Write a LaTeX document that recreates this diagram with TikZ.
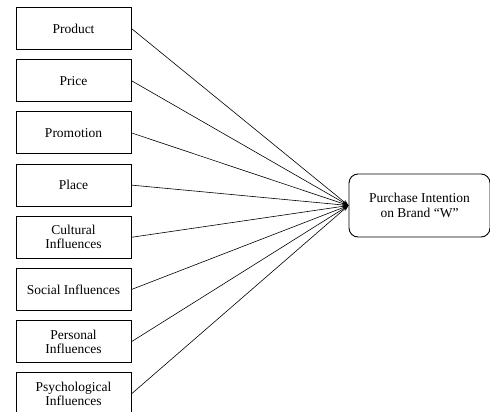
\documentclass[tikz,border=0pt]{standalone}
\usepackage{fontspec}
\setmainfont{Liberation Serif}
\usetikzlibrary{arrows.meta}
\begin{document}
\begin{tikzpicture}[x=1pt,y=-1pt,
  factor/.style={draw, line width=0.9pt, minimum width=115pt, minimum height=42pt, inner sep=0pt, align=center, font=\fontsize{13.5}{14}\selectfont},
  target/.style={draw, line width=0.9pt, rounded corners=9pt, minimum width=141pt, minimum height=63pt, inner sep=0pt, align=center, font=\fontsize{13.5}{14.5}\selectfont},
  link/.style={line width=0.6pt, -{Stealth[length=6pt,width=4pt]}}]
\useasboundingbox (0,0) rectangle (490,412);
\node[factor] (f1) at (73.5,28.5) {Product};
\node[factor] (f2) at (73.5,80.7) {Price};
\node[factor] (f3) at (73.5,132.9) {Promotion};
\node[factor] (f4) at (73.5,185.1) {Place};
\node[factor] (f5) at (73.5,237.3) {Cultural\\Influences};
\node[factor] (f6) at (73.5,289.5) {Social Influences};
\node[factor] (f7) at (73.5,341.7) {Personal\\Influences};
\node[factor] (f8) at (73.5,393.9) {Psychological\\Influences};
\node[target] (t) at (419.5,205.5) {Purchase Intention\\on Brand “W”};
\foreach \i in {1,...,8} {
  \draw[link] (f\i.east) -- (t.west);
}
\end{tikzpicture}
\end{document}
